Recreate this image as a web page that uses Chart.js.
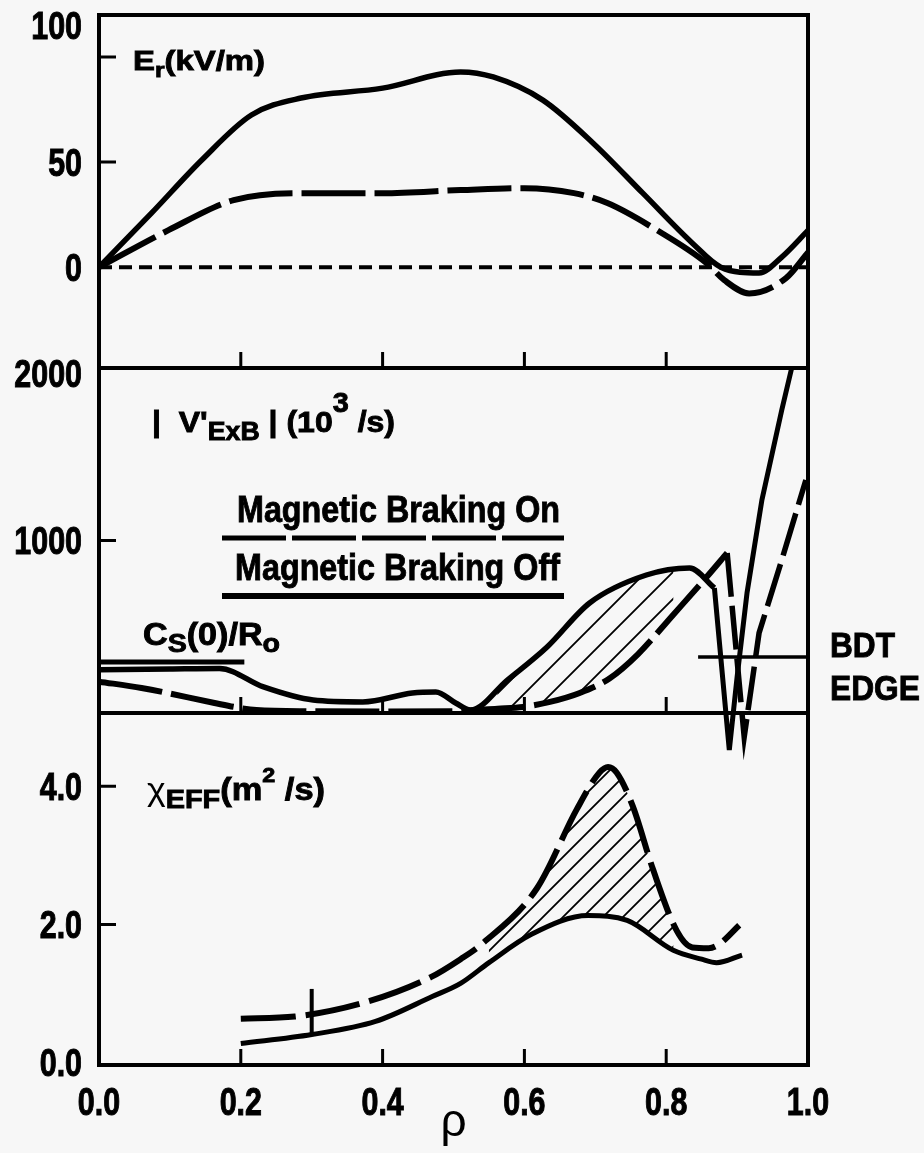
<!DOCTYPE html>
<html>
<head>
<meta charset="utf-8">
<script src="https://cdn.jsdelivr.net/npm/chart.js@4.4.0/dist/chart.umd.min.js"></script>
<style>
  html, body { margin: 0; padding: 0; background: #f7f7f7; }
  #wrap { position: relative; width: 924px; height: 1153px; overflow: hidden; }
  #wrap canvas { position: absolute; left: 0; }
</style>
</head>
<body>
<div id="wrap">
  <canvas id="erChart" width="924" height="420" style="top:0px"></canvas>
  <canvas id="vChart" width="924" height="480" style="top:300px"></canvas>
  <canvas id="chiChart" width="924" height="473" style="top:680px"></canvas>
</div>
<script>
"use strict";

// ---- top panel: Er (kV/m)
var erOffRho = [0, 0.074, 0.145, 0.215, 0.285, 0.40, 0.51, 0.556, 0.626, 0.697, 0.767, 0.837, 0.877, 0.931, 0.963, 1.0];
var erOffVal = [0, 25.7, 51, 72.4, 80.5, 85.2, 92.9, 90.5, 79.5, 59, 35.2, 11.4, 0, -2.8, 4.8, 17.5];
var erOnRho = [0, 0.098, 0.19, 0.285, 0.40, 0.51, 0.60, 0.67, 0.717, 0.787, 0.857, 0.882, 0.917, 0.969, 1.0];
var erOnVal = [0, 17.6, 31.9, 35.2, 35.2, 36.7, 37.6, 35.2, 30.5, 17.6, 1.9, -6.2, -12.5, -5.2, 7];
var zeroRho = [0, 1];
var zeroVal = [0, 0];
var erTicks = [0, 50, 100];

// ---- middle panel: |V'ExB| (10^3/s)
var vOffRho = [0, 0.10, 0.17, 0.232, 0.302, 0.372, 0.442, 0.475, 0.503, 0.524, 0.576, 0.632, 0.692, 0.772, 0.833, 0.868];
var vOffVal = [250, 255, 258, 151, 75, 64, 116, 122, 58, 17, 191, 383, 638, 800, 841, 725];
var vOffSpikeRho = [0.868, 0.889, 0.900, 0.914, 0.935, 0.963, 0.977];
var vOffSpikeVal = [725, -214, 209, 696, 1235, 1757, 2000];
var vOnRho = [0, 0.06, 0.163, 0.191, 0.222, 0.30, 0.40, 0.50, 0.562, 0.598, 0.636, 0.678, 0.72, 0.76, 0.81, 0.857, 0.886];
var vOnVal = [182, 145, 58, 35, 17, 10, 8, 10, 25, 35, 64, 116, 200, 340, 570, 788, 928];
var vOnSpikeRho = [0.886, 0.910, 0.931, 0.963, 0.997];
var vOnSpikeVal = [928, -139, 464, 887, 1351];
var csRho = [0, 0.205];        // Cs(0)/Ro level
var csVal = [295, 295];
var bdtRho = [0.845, 1.0];     // BDT edge level
var bdtVal = [325, 325];
var vTicks = [1000, 2000];

// ---- bottom panel: chi_EFF (m^2/s)
var chiOffRho = [0.2, 0.30, 0.39, 0.47, 0.51, 0.55, 0.61, 0.69, 0.745, 0.81, 0.85, 0.871, 0.907];
var chiOffVal = [0.28, 0.41, 0.60, 0.96, 1.15, 1.45, 1.86, 2.13, 2.06, 1.63, 1.50, 1.45, 1.56];
var chiOnRho = [0.2, 0.276, 0.38, 0.468, 0.51, 0.54, 0.618, 0.674, 0.706, 0.718, 0.73, 0.753, 0.781, 0.815, 0.837, 0.86, 0.875, 0.903];
var chiOnVal = [0.64, 0.67, 0.89, 1.24, 1.50, 1.72, 2.53, 3.67, 4.20, 4.28, 4.20, 3.71, 2.81, 1.91, 1.67, 1.66, 1.72, 1.99];
var errRho = [0.3, 0.3];
var errVal = [0.43, 1.07];
var chiTicks = [0, 2, 4];

var xTicks = [0, 0.2, 0.4, 0.6, 0.8, 1.0];
var xMarks = [0.2, 0.4, 0.6, 0.8];
var hatchRange = [0.52, 0.845];

var textFamily = "'Liberation Sans', Arial, sans-serif";

function pts(xs, ys) {
	return xs.map(function (x, i) { return { x: x, y: ys[i] }; });
}
function within(xs, ys) {
	return pts(xs, ys).filter(function (p) { return p.x >= hatchRange[0] && p.x <= hatchRange[1]; });
}
function curve(data, dash, width, extra) {
	var ds = {
		data: data, borderColor: '#000', borderWidth: width, borderDash: dash || [],
		pointRadius: 0, fill: false, cubicInterpolationMode: 'monotone', borderCapStyle: 'butt'
	};
	for (var k in extra) ds[k] = extra[k];
	return ds;
}
var straight = { cubicInterpolationMode: 'default', tension: 0 };

function hatch(canvasId, step) {
	var c = document.createElement('canvas');
	c.width = step; c.height = step;
	var g = c.getContext('2d');
	g.strokeStyle = '#000';
	g.lineWidth = 1.8;
	g.beginPath();
	g.moveTo(0, step); g.lineTo(step, 0);
	g.moveTo(-2, 2); g.lineTo(2, -2);
	g.moveTo(step - 2, step + 2); g.lineTo(step + 2, step - 2);
	g.stroke();
	return document.getElementById(canvasId).getContext('2d').createPattern(c, 'repeat');
}

// text with sub/superscripts, squeezed to the width measured on the figure
function rich(ctx, parts, x, y, width) {
	var total = 0;
	parts.forEach(function (p) {
		ctx.font = (p[3] || 'bold') + ' ' + p[1] + 'px ' + textFamily;
		total += ctx.measureText(p[0]).width;
	});
	ctx.save();
	ctx.translate(x, y);
	ctx.scale(width / total, 1);
	ctx.strokeStyle = '#000';
	ctx.lineWidth = 0.9;
	var cx = 0;
	parts.forEach(function (p) {
		ctx.font = (p[3] || 'bold') + ' ' + p[1] + 'px ' + textFamily;
		ctx.fillText(p[0], cx, p[2] || 0);
		if (!p[3]) ctx.strokeText(p[0], cx, p[2] || 0);
		cx += ctx.measureText(p[0]).width;
	});
	ctx.restore();
}
// condensed bold tick label (no narrow face installed, so squeeze it)
function tickText(ctx, text, x, baseline, align) {
	ctx.save();
	ctx.font = 'bold 38px ' + textFamily;
	ctx.translate(x, baseline);
	ctx.scale(0.8, 1);
	ctx.textAlign = align;
	ctx.textBaseline = 'alphabetic';
	ctx.strokeStyle = '#000';
	ctx.lineWidth = 1;
	ctx.fillText(text, 0, 0);
	ctx.strokeText(text, 0, 0);
	ctx.restore();
}
function hline(ctx, x1, x2, y, w, dash) {
	ctx.save();
	ctx.lineWidth = w;
	ctx.setLineDash(dash || []);
	ctx.beginPath();
	ctx.moveTo(x1, y); ctx.lineTo(x2, y);
	ctx.stroke();
	ctx.restore();
}

var panels = {
	erChart: {
		top: 0, yMarks: [50, 100], fmt: function (v) { return String(v); },
		labelAt: { 100: 25 },   // the "100" label sits at the top corner in the figure
		extra: function (ctx) {
			rich(ctx, [['E', 28], ['r', 21, 7], ['(kV/m)', 28]], 133, 70, 132);
		}
	},
	vChart: {
		top: 300, yMarks: [1000], fmt: function (v) { return String(v); }, labelAt: { 2000: 373 },
		extra: function (ctx) {
			rich(ctx, [['|  V\'', 30], ['ExB', 25, 8], [' | (10', 30], ['3', 27, -20], [' /s)', 30]], 152, 432, 243);
			rich(ctx, [['Magnetic Braking On', 37]], 237, 522, 323);
			rich(ctx, [['Magnetic Braking Off', 37]], 235, 580, 325);
			hline(ctx, 222, 564, 538, 5, [64, 6]);
			hline(ctx, 222, 564, 596, 6);
			rich(ctx, [['C', 31], ['S', 26, 7], ['(0)/R', 31], ['o', 26, 7]], 143, 645, 137);
			rich(ctx, [['BDT', 35]], 830, 657, 65);
			rich(ctx, [['EDGE', 35]], 830, 700, 90);
		}
	},
	chiChart: {
		top: 680, yMarks: [2, 4], fmt: function (v) { return v.toFixed(1); }, labelAt: { 0: 1062 },
		extra: function (ctx) {
			rich(ctx, [['\u03c7', 32, 0, 'normal'], ['EFF', 26, 8], ['(m', 31], ['2', 21, -18], [' /s)', 31]], 147, 800, 178);
		}
	}
};

var panelDecor = {
	id: 'panelDecor',
	afterDraw: function (chart) {
		var p = panels[chart.canvas.id];
		var ctx = chart.ctx, a = chart.chartArea, xs = chart.scales.x, ys = chart.scales.y;
		ctx.save();
		ctx.strokeStyle = '#000';
		ctx.fillStyle = '#000';
		ctx.lineWidth = 3;
		ctx.beginPath();
		xMarks.forEach(function (v) {
			var px = xs.getPixelForValue(v);
			ctx.moveTo(px, a.bottom); ctx.lineTo(px, a.bottom - 16);
		});
		p.yMarks.forEach(function (v) {
			var py = ys.getPixelForValue(v);
			ctx.moveTo(a.left, py); ctx.lineTo(a.left + 17, py);
		});
		ctx.stroke();
		ctx.lineWidth = 4;
		ctx.strokeRect(a.left, a.top, a.right - a.left, a.bottom - a.top);

		// tick labels from the library's scales
		ys.ticks.forEach(function (t) {
			var py = p.labelAt[t.value] !== undefined ? p.labelAt[t.value] - p.top : ys.getPixelForValue(t.value);
			tickText(ctx, p.fmt(t.value), 82, py + 13.5, 'right');
		});
		if (chart.canvas.id === 'chiChart') {
			xs.ticks.forEach(function (t) {
				tickText(ctx, t.value.toFixed(1), xs.getPixelForValue(t.value), 1115 - p.top, 'center');
			});
		}

		ctx.translate(0, -p.top);
		p.extra(ctx);
		ctx.restore();
	}
};

function makeChart(id, datasets, y, pad, bottomAxis) {
	var xScale = { type: 'linear', min: 0, max: 1, display: false };
	if (bottomAxis) {
		xScale = {
			type: 'linear', min: 0, max: 1,
			grid: { display: false, drawTicks: false }, border: { display: false },
			afterBuildTicks: function (s) { s.ticks = xTicks.map(function (v) { return { value: v }; }); },
			afterFit: function (s) { s.height = 88; },
			ticks: { display: false },
			title: { display: true, text: '\u03c1', color: '#000', padding: { top: 0, bottom: 2 }, font: { family: textFamily, size: 46, weight: 'normal' } }
		};
	}
	return new Chart(document.getElementById(id), {
		type: 'line',
		data: { datasets: datasets },
		options: {
			responsive: false,
			animation: false,
			events: [],
			layout: { padding: { left: 0, right: 116, top: pad[0], bottom: pad[1] } },
			plugins: { legend: { display: false }, tooltip: { enabled: false } },
			scales: {
				x: xScale,
				y: {
					min: y.min, max: y.max,
					grid: { display: false, drawTicks: false }, border: { display: false },
					afterBuildTicks: function (s) { s.ticks = y.ticks.map(function (v) { return { value: v }; }); },
					afterFit: function (s) { s.width = 99; },
					ticks: { display: false }
				}
			}
		},
		plugins: [panelDecor]
	});
}

makeChart('erChart', [
	curve(pts(zeroRho, zeroVal), [13, 7], 4, straight),
	curve(pts(erOnRho, erOnVal), [64, 9], 6),
	curve(pts(erOffRho, erOffVal), [], 5.5)
], { min: -48, max: 120, ticks: erTicks }, [15, 52], false);

makeChart('vChart', [
	curve(within(vOffRho, vOffVal), [], 0, { fill: '+1', backgroundColor: hatch('vChart', 27) }),
	curve(within(vOnRho, vOnVal), [], 0),
	curve(pts(csRho, csVal), [], 5, straight),
	curve(pts(bdtRho, bdtVal), [], 3.5, straight),
	curve(pts(vOnRho, vOnVal), [64, 9], 6),
	curve(pts(vOnSpikeRho, vOnSpikeVal), [44, 9], 5.5, { cubicInterpolationMode: 'default', tension: 0, clip: false }),
	curve(pts(vOffRho, vOffVal), [], 5.5),
	curve(pts(vOffSpikeRho, vOffSpikeVal), [], 5, { cubicInterpolationMode: 'default', tension: 0, clip: false })
], { min: 0, max: 2000, ticks: vTicks }, [68, 67], false);

makeChart('chiChart', [
	curve(within(chiOnRho, chiOnVal), [], 0, { fill: '+1', backgroundColor: hatch('chiChart', 20) }),
	curve(within(chiOffRho, chiOffVal), [], 0),
	curve(pts(errRho, errVal), [], 4, straight),
	curve(pts(chiOnRho, chiOnVal), [55, 10], 6),
	curve(pts(chiOffRho, chiOffVal), [], 5)
], { min: -0.03, max: 5.06, ticks: chiTicks }, [33, 0], true);
</script>
</body>
</html>
